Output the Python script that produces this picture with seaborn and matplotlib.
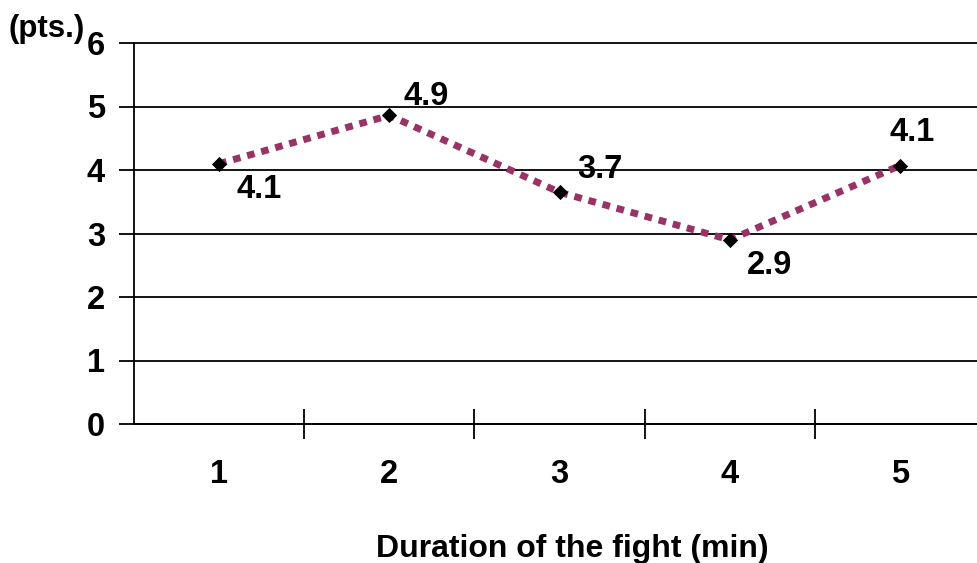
import matplotlib
matplotlib.use("Agg")
import matplotlib.pyplot as plt
import seaborn as sns
import pandas as pd
import numpy as np
from matplotlib.ticker import FixedLocator

categories = ["1", "2", "3", "4", "5"]
values = [4.1, 4.86, 3.65, 2.9, 4.07]
value_labels = ["4.1", "4.9", "3.7", "2.9", "4.1"]
y_ticks = [0, 1, 2, 3, 4, 5, 6]

sns.set_theme(style="white")
plt.rcParams['font.family'] = ['Liberation Sans', 'DejaVu Sans']
plt.rcParams['font.weight'] = 'bold'
plt.rcParams['text.color'] = 'black'
plt.rcParams['axes.labelcolor'] = 'black'
plt.rcParams['xtick.color'] = 'black'
plt.rcParams['ytick.color'] = 'black'

W, H = 977, 563
fig = plt.figure(figsize=(W / 100, H / 100), dpi=100)
left, right, top, bottom = 134, 985, 43, 424
ax = fig.add_axes([left / W, 1 - bottom / H, (right - left) / W, (bottom - top) / H])

df = pd.DataFrame({"pos": np.arange(len(categories)), "val": values})
sns.lineplot(data=df, x="pos", y="val", ax=ax, color="#993366", linewidth=5,
             linestyle=(0, (1.1, 1.0)), zorder=3)
ax.lines[0].set_dash_capstyle('butt')
sns.scatterplot(data=df, x="pos", y="val", ax=ax, marker="D", color="black",
                s=60, zorder=4, edgecolor="black", linewidth=0)

offsets = [(40, -26), (37, 19), (40, 23), (40, -26), (12, 33)]
for i, (v, lab) in enumerate(zip(values, value_labels)):
    ax.annotate(lab, (i, v), xytext=offsets[i], textcoords='offset pixels',
                ha='center', va='center', fontsize=23.5, fontweight='bold', color='black')

ax.set_xlim(-0.5, len(categories) - 0.5)
ax.set_ylim(0, 6)
ax.set_yticks(y_ticks)
ax.set_yticklabels([str(t) for t in y_ticks], fontsize=23.5, fontweight='bold')
ax.set_xticks(np.arange(len(categories)))
ax.set_xticklabels(categories, fontsize=23.5, fontweight='bold')
ax.xaxis.set_minor_locator(FixedLocator(np.arange(0.5, len(categories) - 0.5, 1)))
ax.tick_params(axis='x', which='major', length=0, pad=25, colors='black', labelcolor='black')
ax.tick_params(axis='x', which='minor', direction='inout', length=22, width=1.3, color='black', bottom=True)
ax.tick_params(axis='y', which='major', direction='out', length=11, width=1.3, color='black',
               labelcolor='black', pad=10, left=True)

ax.grid(False)
for t in y_ticks:
    ax.axhline(t, color='black', linewidth=1.3, zorder=1, clip_on=False)

for s in ['top', 'right']:
    ax.spines[s].set_visible(False)
for s in ['left', 'bottom']:
    ax.spines[s].set_color('black')
    ax.spines[s].set_linewidth(1.3)

ax.set_ylabel("")
ax.set_xlabel("Duration of the fight (min)", fontsize=23, fontweight='bold', color='black')
ax.xaxis.set_label_coords((572 - left) / (right - left), (bottom - 534) / (bottom - top))

fig.text(8 / W, 1 - 29 / H, "(pts.)", fontsize=22.5, fontweight='bold', ha='left', va='center',
         color='black')

fig.savefig("out.png", dpi=100)
